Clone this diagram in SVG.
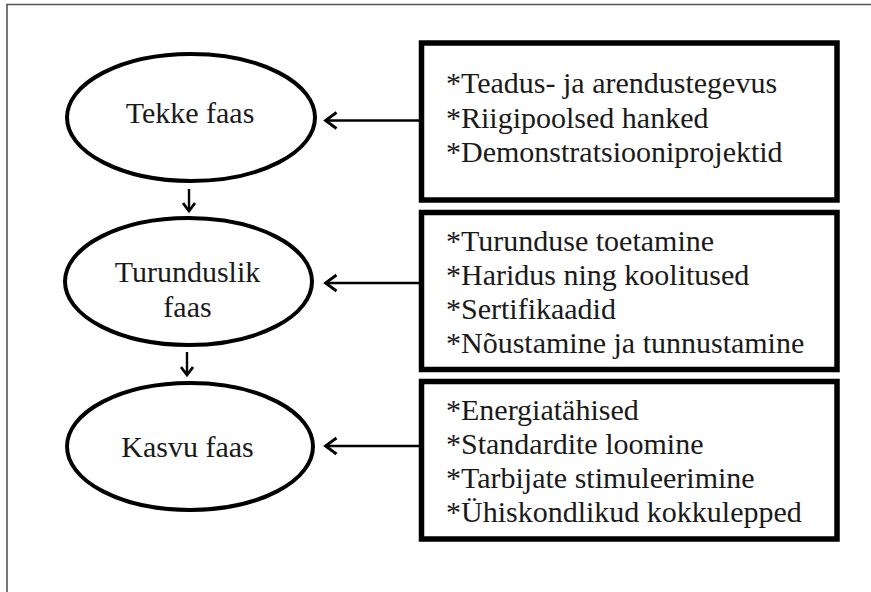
<svg xmlns="http://www.w3.org/2000/svg" width="871" height="592" viewBox="0 0 871 592">
<defs>
<style>
.frame{fill:none;stroke:#555;stroke-width:1.6}
.phase{fill:#fff;stroke:#000;stroke-width:4}
.box{fill:#fff;stroke:#000;stroke-width:5.5}
.t{font-size:30px;fill:#1a1a1a}
.c{text-anchor:middle}
.conn{fill:none;stroke:#000;stroke-width:2.4}
.down{fill:none;stroke:#000;stroke-width:2.4}
</style>
<marker id="chev" markerUnits="userSpaceOnUse" markerWidth="18" markerHeight="20" refX="14.5" refY="9" orient="auto" viewBox="0 0 18 18">
<path d="M3,1 L14,9 L3,17" fill="none" stroke="#000" stroke-width="2.8"/>
</marker>
<marker id="dhead" markerUnits="userSpaceOnUse" markerWidth="14" markerHeight="14" refX="11" refY="7" orient="auto" viewBox="0 0 14 14">
<path d="M3,1 L11,7 L3,13" fill="none" stroke="#000" stroke-width="2.8"/>
</marker>
</defs>
<rect width="871" height="592" fill="#fff"/>
<path class="frame" d="M7,592 V4.5 H871"/>

<g id="connectors">
<line class="conn" x1="419" y1="120.5" x2="325" y2="120.5" marker-end="url(#chev)"/>
<line class="conn" x1="419" y1="283" x2="325" y2="283" marker-end="url(#chev)"/>
<line class="conn" x1="419" y1="446" x2="325" y2="446" marker-end="url(#chev)"/>
<line class="down" x1="189" y1="189" x2="189" y2="211" marker-end="url(#dhead)"/>
<line class="down" x1="187" y1="352" x2="187" y2="375" marker-end="url(#dhead)"/>
</g>

<g font-family="Liberation Serif, Times New Roman, DejaVu Serif, serif">
<g id="node-tekke">
<ellipse class="phase" cx="191" cy="117.5" rx="124" ry="63.5"/>
<text class="t c" x="190" y="123">Tekke faas</text>
</g>
<g id="node-turunduslik">
<ellipse class="phase" cx="188.5" cy="281.5" rx="123.5" ry="63.5"/>
<text class="t c" x="187.5" y="282">Turunduslik</text>
<text class="t c" x="187.5" y="316.5">faas</text>
</g>
<g id="node-kasvu">
<ellipse class="phase" cx="190" cy="446.5" rx="123" ry="63.5"/>
<text class="t c" x="187.5" y="457">Kasvu faas</text>
</g>

<g id="box-tekke">
<rect class="box" x="421.5" y="43" width="415.5" height="157"/>
<text class="t" x="446" y="93">*Teadus- ja arendustegevus</text>
<text class="t" x="446" y="127.5">*Riigipoolsed hanked</text>
<text class="t" x="446" y="162">*Demonstratsiooniprojektid</text>
</g>
<g id="box-turunduslik">
<rect class="box" x="421.5" y="212.5" width="415.5" height="157"/>
<text class="t" x="446" y="250.5">*Turunduse toetamine</text>
<text class="t" x="446" y="284.5">*Haridus ning koolitused</text>
<text class="t" x="446" y="318.5">*Sertifikaadid</text>
<text class="t" x="446" y="353">*Nõustamine ja tunnustamine</text>
</g>
<g id="box-kasvu">
<rect class="box" x="421.5" y="381.5" width="415.5" height="157.5"/>
<text class="t" x="446" y="420">*Energiatähised</text>
<text class="t" x="446" y="454">*Standardite loomine</text>
<text class="t" x="446" y="488">*Tarbijate stimuleerimine</text>
<text class="t" x="446" y="522">*Ühiskondlikud kokkulepped</text>
</g>
</g>
</svg>
